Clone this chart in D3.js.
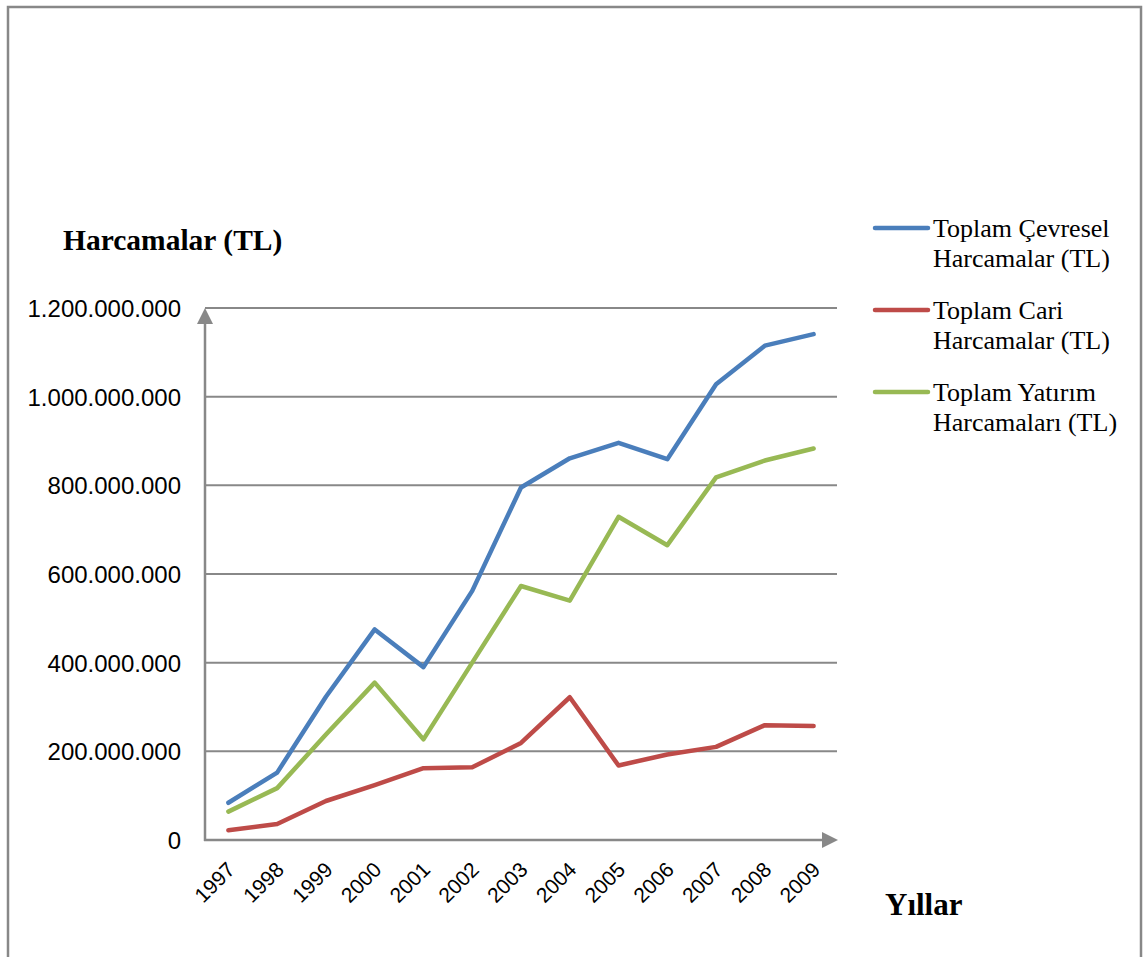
<!DOCTYPE html>
<html>
<head>
<meta charset="utf-8">
<script src="https://cdn.jsdelivr.net/npm/d3@7"></script>
<style>
  body { margin: 0; background: #fff; }
  .tick text { font-family: "Liberation Sans", Arial, sans-serif; fill: #000; }
  .serif { font-family: "Liberation Serif", "Times New Roman", serif; fill: #000; }
</style>
</head>
<body>
<div id="chart"></div>
<script>
"use strict";

// data
var years = ["1997", "1998", "1999", "2000", "2001", "2002", "2003", "2004", "2005", "2006", "2007", "2008", "2009"];
var cevresel = [84e6, 152e6, 323e6, 475e6, 390e6, 562e6, 795e6, 861e6, 896e6, 859e6, 1028e6, 1115e6, 1141e6];
var cari = [22e6, 36e6, 88e6, 124e6, 162e6, 164e6, 219e6, 322e6, 168e6, 193e6, 210e6, 259e6, 257e6];
var yatirim = [64e6, 117e6, 238e6, 355e6, 227e6, 400e6, 573e6, 540e6, 729e6, 665e6, 818e6, 856e6, 883e6];
var yTicks = [0, 200e6, 400e6, 600e6, 800e6, 1000e6, 1200e6];
var seriesNames = [["Toplam Çevresel", "Harcamalar (TL)"], ["Toplam Cari", "Harcamalar (TL)"], ["Toplam Yatırım", "Harcamaları (TL)"]];
var seriesColors = ["#4a7ebb", "#be4b48", "#98b954"];

function lineChart(w, h) {
  var svg = d3.select("#chart").append("svg")
    .attr("width", w)
    .attr("height", h);

  var gray = "#888888";

  //outer frame
  svg.append("rect")
    .attr("x", 8).attr("y", 7)
    .attr("width", 1133).attr("height", 1000)
    .attr("fill", "none")
    .attr("stroke", gray)
    .attr("stroke-width", 2.5);

  //scales
  var xScale = d3.scaleBand()
    .domain(years)
    .range([204, 838]);

  var yScale = d3.scaleLinear()
    .domain([0, 1200e6])
    .range([840, 308]);

  var trLocale = d3.formatLocale({ decimal: ",", thousands: ".", grouping: [3], currency: ["", " TL"] });
  var fmt = trLocale.format(",d");

  //gridlines
  svg.append("g")
    .selectAll("line")
    .data(yTicks.slice(1))
    .join("line")
    .attr("x1", 205).attr("x2", 837)
    .attr("y1", function (d) { return yScale(d); })
    .attr("y2", function (d) { return yScale(d); })
    .attr("stroke", gray)
    .attr("stroke-width", 2);

  //y axis
  var yAxis = d3.axisLeft(yScale)
    .tickValues(yTicks)
    .tickFormat(fmt)
    .tickSize(0)
    .tickPadding(24);

  var gy = svg.append("g")
    .attr("transform", "translate(205,0)")
    .call(yAxis);
  gy.select(".domain").remove();
  gy.selectAll(".tick text").attr("font-size", 24).attr("dy", "0.35em");

  svg.append("line")
    .attr("x1", 205).attr("x2", 205)
    .attr("y1", 841).attr("y2", 318)
    .attr("stroke", gray).attr("stroke-width", 2.5);
  svg.append("path")
    .attr("d", "M197,324L213,324L205,308Z")
    .attr("fill", gray);

  //x axis
  var xAxis = d3.axisBottom(xScale).tickSize(0).tickPadding(0);
  var gx = svg.append("g")
    .attr("transform", "translate(0,840)")
    .call(xAxis);
  gx.select(".domain").remove();
  gx.selectAll(".tick text")
    .attr("font-size", 21)
    .attr("text-anchor", "end")
    .attr("dy", 0)
    .attr("transform", "translate(8,31) rotate(-45)");

  svg.append("line")
    .attr("x1", 204).attr("x2", 826)
    .attr("y1", 840).attr("y2", 840)
    .attr("stroke", gray).attr("stroke-width", 2.5);
  svg.append("path")
    .attr("d", "M822,832L822,848L838,840Z")
    .attr("fill", gray);

  //lines
  var line = d3.line()
    .x(function (d, i) { return xScale(years[i]) + xScale.bandwidth() / 2; })
    .y(function (d) { return yScale(d); });

  var allSeries = [cevresel, cari, yatirim];
  svg.append("g")
    .selectAll("path")
    .data(allSeries)
    .join("path")
    .attr("d", line)
    .attr("fill", "none")
    .attr("stroke", function (d, i) { return seriesColors[i]; })
    .attr("stroke-width", 4.5)
    .attr("stroke-linejoin", "round")
    .attr("stroke-linecap", "round");

  //axis titles
  svg.append("text")
    .attr("class", "serif")
    .attr("x", 63).attr("y", 250)
    .attr("font-size", 29.5)
    .attr("font-weight", "bold")
    .text("Harcamalar (TL)");

  svg.append("text")
    .attr("class", "serif")
    .attr("x", 885).attr("y", 915)
    .attr("font-size", 31)
    .attr("font-weight", "bold")
    .text("Yıllar");

  //legend
  var legend = svg.append("g")
    .selectAll("g")
    .data(seriesNames)
    .join("g")
    .attr("transform", function (d, i) { return "translate(0," + (228 + i * 82) + ")"; });

  legend.append("line")
    .attr("x1", 875).attr("x2", 928)
    .attr("y1", 0).attr("y2", 0)
    .attr("stroke", function (d, i) { return seriesColors[i]; })
    .attr("stroke-width", 4.5)
    .attr("stroke-linecap", "round");

  legend.append("text")
    .attr("class", "serif")
    .attr("x", 933)
    .attr("y", 9)
    .attr("font-size", 26)
    .text(function (d) { return d[0]; });

  legend.append("text")
    .attr("class", "serif")
    .attr("x", 933)
    .attr("y", 39)
    .attr("font-size", 26)
    .text(function (d) { return d[1]; });
}

function init() {
  lineChart(1144, 957);
}

window.onload = init;
</script>
</body>
</html>
